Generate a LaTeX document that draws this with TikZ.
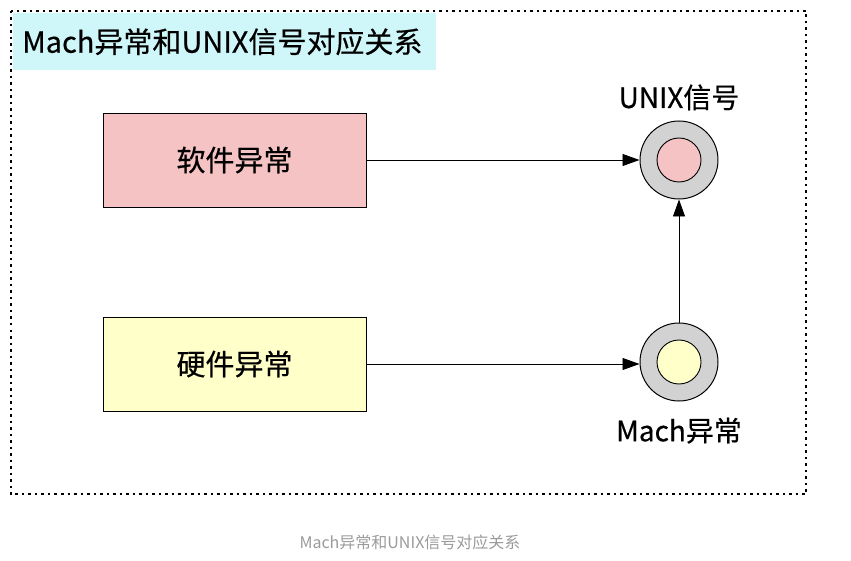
\documentclass[tikz,border=0pt]{standalone}
\usepackage{fontspec}
\setmainfont{Noto Sans CJK SC}
\newfontfamily\heavy[FakeBold=0.5]{Noto Sans CJK SC}
\usetikzlibrary{arrows.meta, positioning}
\definecolor{softPink}{HTML}{F5C3C4}
\definecolor{softYellow}{HTML}{FFFFC9}
\definecolor{titleCyan}{HTML}{CFF6F8}
\definecolor{ringGray}{HTML}{D2D2D2}
\definecolor{captionGray}{HTML}{9A9A9A}

\begin{document}
\begin{tikzpicture}[x=1pt, y=-1pt,
    exc/.style={rectangle, draw=black, line width=0.9pt, minimum width=263pt,
                minimum height=94pt, font=\heavy\fontsize{29}{32}\selectfont},
    ring/.style={circle, draw=black, line width=1pt, fill=ringGray,
                 minimum size=78pt, inner sep=0pt},
    core/.style={circle, draw=black, line width=0.9pt, minimum size=44pt, inner sep=0pt},
    lbl/.style={font=\heavy\fontsize{28}{32}\selectfont, inner sep=0pt},
    arr/.style={-{Triangle[length=17pt, width=12pt]}, line width=0.9pt},
  ]
    \useasboundingbox (0,0) rectangle (851,561);

    % Marco y titulo
    \draw[line width=1.4pt, dash pattern=on 2.5pt off 4pt] (11,11) rectangle (806,494);
    \node[fill=titleCyan, anchor=north west, minimum width=423pt, minimum height=57pt,
          text width=405pt, inner xsep=9pt, align=left,
          font=\heavy\fontsize{29}{34}\selectfont] (title) at (13,13) {Mach异常和UNIX信号对应关系};

    % Excepciones
    \node[exc, fill=softPink] (soft) at (234.5,160) {软件异常};
    \node[exc, fill=softYellow] (hard) at (234.5,364) {硬件异常};

    % Senales
    \node[ring] (unixRing) at (679,160) {};
    \node[core, fill=softPink] (unixCore) at (unixRing.center) {};
    \node[ring] (machRing) at (679,362) {};
    \node[core, fill=softYellow] (machCore) at (machRing.center) {};
    \node[lbl, above=10pt of unixRing] (unixLbl) {UNIX信号};
    \node[lbl, below=16pt of machRing] (machLbl) {Mach异常};

    % Flechas
    \draw[arr] (soft.east) -- (unixRing.west);
    \draw[arr] (hard.east) -- (hard.east -| machRing.west);
    \draw[arr] (machRing.north) -- (unixRing.south);

    % Pie
    \node[font=\fontsize{16}{18}\selectfont, text=captionGray] (caption) at (410,542)
      {Mach异常和UNIX信号对应关系};
  \end{tikzpicture}
\end{document}
